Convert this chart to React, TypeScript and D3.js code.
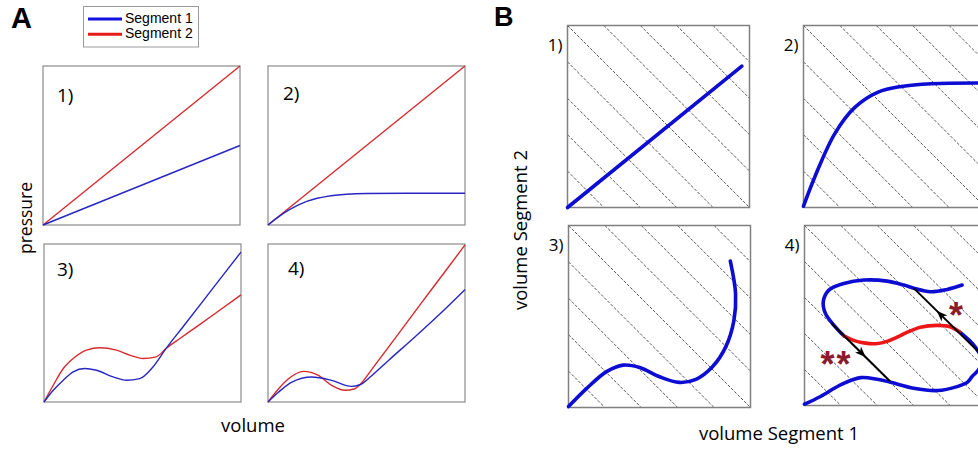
import React from 'react';
import * as d3 from 'd3';

type Pt = [number, number];

// ---- panel A: pressure vs volume (both normalised 0..1)
const a1Seg1: Pt[] = [[0, 0], [1, 0.5]];
const a1Seg2: Pt[] = [[0, 0], [1, 1]];

const a2Seg1: Pt[] = [[0, 0], [0.05, 0.048], [0.1, 0.09], [0.15, 0.124], [0.2, 0.15], [0.25, 0.168], [0.3, 0.18], [0.4, 0.193], [0.5, 0.198], [0.7, 0.2], [1, 0.2]];
const a2Seg2: Pt[] = [[0, 0], [1, 1]];

const a3Seg1: Pt[] = [[0, 0], [0.047, 0.074], [0.098, 0.138], [0.148, 0.191], [0.207, 0.212], [0.266, 0.201], [0.351, 0.159], [0.418, 0.138], [0.486, 0.148], [0.553, 0.222], [0.62, 0.339], [0.705, 0.475], [0.806, 0.637], [0.907, 0.8], [1, 0.949]];
const a3Seg2: Pt[] = [[0, 0], [0.047, 0.106], [0.098, 0.212], [0.148, 0.275], [0.216, 0.328], [0.283, 0.343], [0.368, 0.328], [0.435, 0.297], [0.503, 0.275], [0.57, 0.286], [0.62, 0.339], [0.688, 0.4], [0.772, 0.474], [0.874, 0.565], [1, 0.678]];

const a4Seg1: Pt[] = [[0, 0], [0.054, 0.063], [0.121, 0.126], [0.222, 0.158], [0.323, 0.137], [0.424, 0.099], [0.466, 0.109], [0.525, 0.165], [0.609, 0.26], [0.744, 0.41], [0.879, 0.565], [1, 0.712]];
const a4Seg2: Pt[] = [[0, 0], [0.054, 0.084], [0.104, 0.147], [0.18, 0.194], [0.256, 0.168], [0.323, 0.105], [0.39, 0.074], [0.441, 0.084], [0.466, 0.109], [0.542, 0.232], [0.643, 0.4], [0.778, 0.626], [0.879, 0.793], [1, 0.994]];

const legendNames = ['Segment 1', 'Segment 2'];

// ---- panel B: volume segment 2 vs volume segment 1
const b1Curve: Pt[] = [[0, 0], [0.958, 0.777]];
const b2Curve: Pt[] = [[0, 0.007], [0.062, 0.168], [0.172, 0.406], [0.282, 0.55], [0.41, 0.634], [0.538, 0.665], [0.703, 0.68], [0.96, 0.684]];
const b3Curve: Pt[] = [[0, 0.005], [0.1, 0.105], [0.209, 0.197], [0.3, 0.233], [0.391, 0.22], [0.5, 0.169], [0.609, 0.138], [0.7, 0.155], [0.791, 0.224], [0.864, 0.333], [0.909, 0.479], [0.918, 0.625], [0.889, 0.805]];
const b4Upper: Pt[] = [[0.866, 0.669], [0.784, 0.645], [0.692, 0.632], [0.6, 0.652], [0.546, 0.669], [0.454, 0.691], [0.326, 0.697], [0.216, 0.678], [0.134, 0.641], [0.103, 0.577], [0.115, 0.512], [0.161, 0.447], [0.216, 0.387]];
const b4Unstable: Pt[] = [[0.216, 0.387], [0.27, 0.362], [0.326, 0.348], [0.39, 0.343], [0.45, 0.355], [0.509, 0.38], [0.56, 0.405], [0.637, 0.435], [0.73, 0.445], [0.8, 0.437], [0.85, 0.41]];
const b4Lower: Pt[] = [[0.85, 0.41], [0.921, 0.346], [0.956, 0.298], [0.98, 0.25], [0.956, 0.198], [0.921, 0.161], [0.896, 0.13], [0.839, 0.105], [0.729, 0.083], [0.6, 0.096], [0.473, 0.129], [0.399, 0.146], [0.308, 0.155], [0.198, 0.115], [0.088, 0.05], [0, 0.007]];

// jumps along constant total volume
const jumpFrom: Pt[] = [[0.148, 0.457], [0.956, 0.298]];
const jumpTo: Pt[] = [[0.47, 0.135], [0.6, 0.652]];
const jumpHead = [0.52, 0.585];
const jumpMarks = ['**', '*'];
const jumpMarkAt: Pt[] = [[0.176, 0.265], [0.838, 0.536]];

// total volume iso-lines (x + y = c)
const hatchLevels = [0.2, 0.4, 0.6, 0.8, 1.0, 1.2, 1.4, 1.6, 1.8];

const BLUE_A = '#2626c4';
const RED_A = '#d82a2e';
const BLUE_B = '#0c0cd2';
const RED_B = '#ec1616';
const FONT = '"Open Sans", sans-serif';
const ARIAL = "'Liberation Sans', Arial, sans-serif";

type Box = { x: number; y: number; w: number; h: number };

const scales = (b: Box) => ({
  x: d3.scaleLinear().domain([0, 1]).range([b.x, b.x + b.w]),
  y: d3.scaleLinear().domain([0, 1]).range([b.y + b.h, b.y]),
});

const PanelA = ({ box, seg1, seg2, label, lx, ly }: { box: Box; seg1: Pt[]; seg2: Pt[]; label: string; lx: number; ly: number }) => {
  const { x, y } = scales(box);
  const line = d3.line<Pt>().x(d => x(d[0])).y(d => y(d[1])).curve(d3.curveMonotoneX);
  return (
    <g>
      <rect x={box.x} y={box.y} width={box.w} height={box.h} fill="white" stroke="#8a8a8a" strokeWidth={1.2} />
      <path d={line(seg2) || ''} fill="none" stroke={RED_A} strokeWidth={1.4} />
      <path d={line(seg1) || ''} fill="none" stroke={BLUE_A} strokeWidth={1.4} />
      <text x={box.x + lx} y={box.y + ly} fontFamily={FONT} fontSize={19}>{label}</text>
    </g>
  );
};

const PanelB = ({ box, label, children }: { box: Box; label: string; children?: (x: d3.ScaleLinear<number, number>, y: d3.ScaleLinear<number, number>) => React.ReactNode }) => {
  const { x, y } = scales(box);
  const hatch = hatchLevels.map(c => {
    const p0: Pt = c <= 1 ? [0, c] : [c - 1, 1];
    const p1: Pt = c <= 1 ? [c, 0] : [1, c - 1];
    return [p0, p1];
  });
  return (
    <g>
      <rect x={box.x} y={box.y} width={box.w} height={box.h} fill="white" />
      {hatch.map(([p0, p1], i) => (
        <line key={i} x1={x(p0[0])} y1={y(p0[1])} x2={x(p1[0])} y2={y(p1[1])} stroke="#444" strokeWidth={0.9} strokeDasharray="3,1.6" />
      ))}
      <rect x={box.x} y={box.y} width={box.w} height={box.h} fill="none" stroke="#808080" strokeWidth={1.5} />
      <text x={box.x - 5} y={box.y + 25} textAnchor="end" fontFamily={FONT} fontSize={17}>{label}</text>
      {children && children(x, y)}
    </g>
  );
};

const curveLine = (x: d3.ScaleLinear<number, number>, y: d3.ScaleLinear<number, number>) =>
  d3.line<Pt>().x(d => x(d[0])).y(d => y(d[1])).curve(d3.curveCatmullRom.alpha(0.5));

const arrowHead = (x: d3.ScaleLinear<number, number>, y: d3.ScaleLinear<number, number>, a: Pt, b: Pt, t: number) => {
  const ax = x(a[0]), ay = y(a[1]), bx = x(b[0]), by = y(b[1]);
  const len = Math.hypot(bx - ax, by - ay);
  const ux = (bx - ax) / len, uy = (by - ay) / len;
  const cx = ax + (bx - ax) * t, cy = ay + (by - ay) * t;
  const L = 11, W = 4.2;
  const tip = [cx + ux * L / 2, cy + uy * L / 2];
  const base = [cx - ux * L / 2, cy - uy * L / 2];
  return `M${tip[0]},${tip[1]}L${base[0] - uy * W},${base[1] + ux * W}L${base[0] + ux * 3},${base[1] + uy * 3}L${base[0] + uy * W},${base[1] - ux * W}Z`;
};

export default function App() {
  const aBoxes: Box[] = [
    { x: 43, y: 66, w: 197, h: 159 },
    { x: 268, y: 66, w: 197, h: 159 },
    { x: 44, y: 244, w: 197, h: 158 },
    { x: 268, y: 244, w: 197, h: 158 },
  ];
  const bBoxes: Box[] = [
    { x: 567.5, y: 25.5, w: 182, h: 182 },
    { x: 803.5, y: 25.5, w: 182, h: 182 },
    { x: 568.5, y: 225.5, w: 182, h: 182 },
    { x: 804.5, y: 225.5, w: 182, h: 180 },
  ];
  const thick = { fill: 'none', strokeWidth: 3.6, strokeLinecap: 'round' as const, strokeLinejoin: 'round' as const };
  return (
    <svg width={978} height={451} style={{ position: 'absolute', left: 0, top: 0, background: 'white' }}>
      <rect width={978} height={451} fill="white" />
      {/* A */}
      <text x={11} y={28} fontFamily={ARIAL} fontWeight="bold" fontSize={29}>A</text>
      <rect x={83.5} y={6.5} width={115} height={40.5} fill="white" stroke="#9a9a9a" strokeWidth={1} />
      {legendNames.map((n, i) => (
        <g key={n}>
          <line x1={88} x2={122} y1={19 + i * 15.3} y2={19 + i * 15.3} stroke={i === 0 ? '#1010e0' : '#e41a1c'} strokeWidth={3} />
          <text x={125} y={23 + i * 15.3} fontFamily={ARIAL} fontSize={14}>{n}</text>
        </g>
      ))}
      <PanelA box={aBoxes[0]} seg1={a1Seg1} seg2={a1Seg2} label="1)" lx={14} ly={36} />
      <PanelA box={aBoxes[1]} seg1={a2Seg1} seg2={a2Seg2} label="2)" lx={15} ly={34} />
      <PanelA box={aBoxes[2]} seg1={a3Seg1} seg2={a3Seg2} label="3)" lx={13} ly={32} />
      <PanelA box={aBoxes[3]} seg1={a4Seg1} seg2={a4Seg2} label="4)" lx={20} ly={31} />
      <text transform="translate(32,218) rotate(-90)" textAnchor="middle" fontFamily={FONT} fontSize={17.5}>pressure</text>
      <text x={253} y={432} textAnchor="middle" fontFamily={FONT} fontSize={18.5}>volume</text>

      {/* B */}
      <text x={494} y={25.5} fontFamily={ARIAL} fontWeight="bold" fontSize={27}>B</text>
      <PanelB box={bBoxes[0]} label="1)">
        {(x, y) => <path d={curveLine(x, y)(b1Curve) || ''} stroke={BLUE_B} {...thick} />}
      </PanelB>
      <PanelB box={bBoxes[1]} label="2)">
        {(x, y) => <path d={curveLine(x, y)(b2Curve) || ''} stroke={BLUE_B} {...thick} />}
      </PanelB>
      <PanelB box={bBoxes[2]} label="3)">
        {(x, y) => <path d={curveLine(x, y)(b3Curve) || ''} stroke={BLUE_B} {...thick} />}
      </PanelB>
      <PanelB box={bBoxes[3]} label="4)">
        {(x, y) => (
          <g>
            <path d={curveLine(x, y)(b4Upper) || ''} stroke={BLUE_B} {...thick} />
            <path d={curveLine(x, y)(b4Lower) || ''} stroke={BLUE_B} {...thick} />
            <path d={curveLine(x, y)(b4Unstable) || ''} stroke={RED_B} {...thick} />
            {jumpFrom.map((f, i) => (
              <g key={i}>
                <line x1={x(f[0])} y1={y(f[1])} x2={x(jumpTo[i][0])} y2={y(jumpTo[i][1])} stroke="black" strokeWidth={2} />
                <path d={arrowHead(x, y, f, jumpTo[i], jumpHead[i])} fill="black" />
                <text x={x(jumpMarkAt[i][0])} y={y(jumpMarkAt[i][1]) + 19} textAnchor="middle" fontFamily={ARIAL} fontWeight="bold" fontSize={36} letterSpacing={2} fill="#8b1a2a">{jumpMarks[i]}</text>
              </g>
            ))}
          </g>
        )}
      </PanelB>
      <text transform="translate(527,230) rotate(-90)" textAnchor="middle" fontFamily={FONT} fontSize={18.5}>volume Segment 2</text>
      <text x={779} y={440} textAnchor="middle" fontFamily={FONT} fontSize={18.5}>volume Segment 1</text>
    </svg>
  );
}
